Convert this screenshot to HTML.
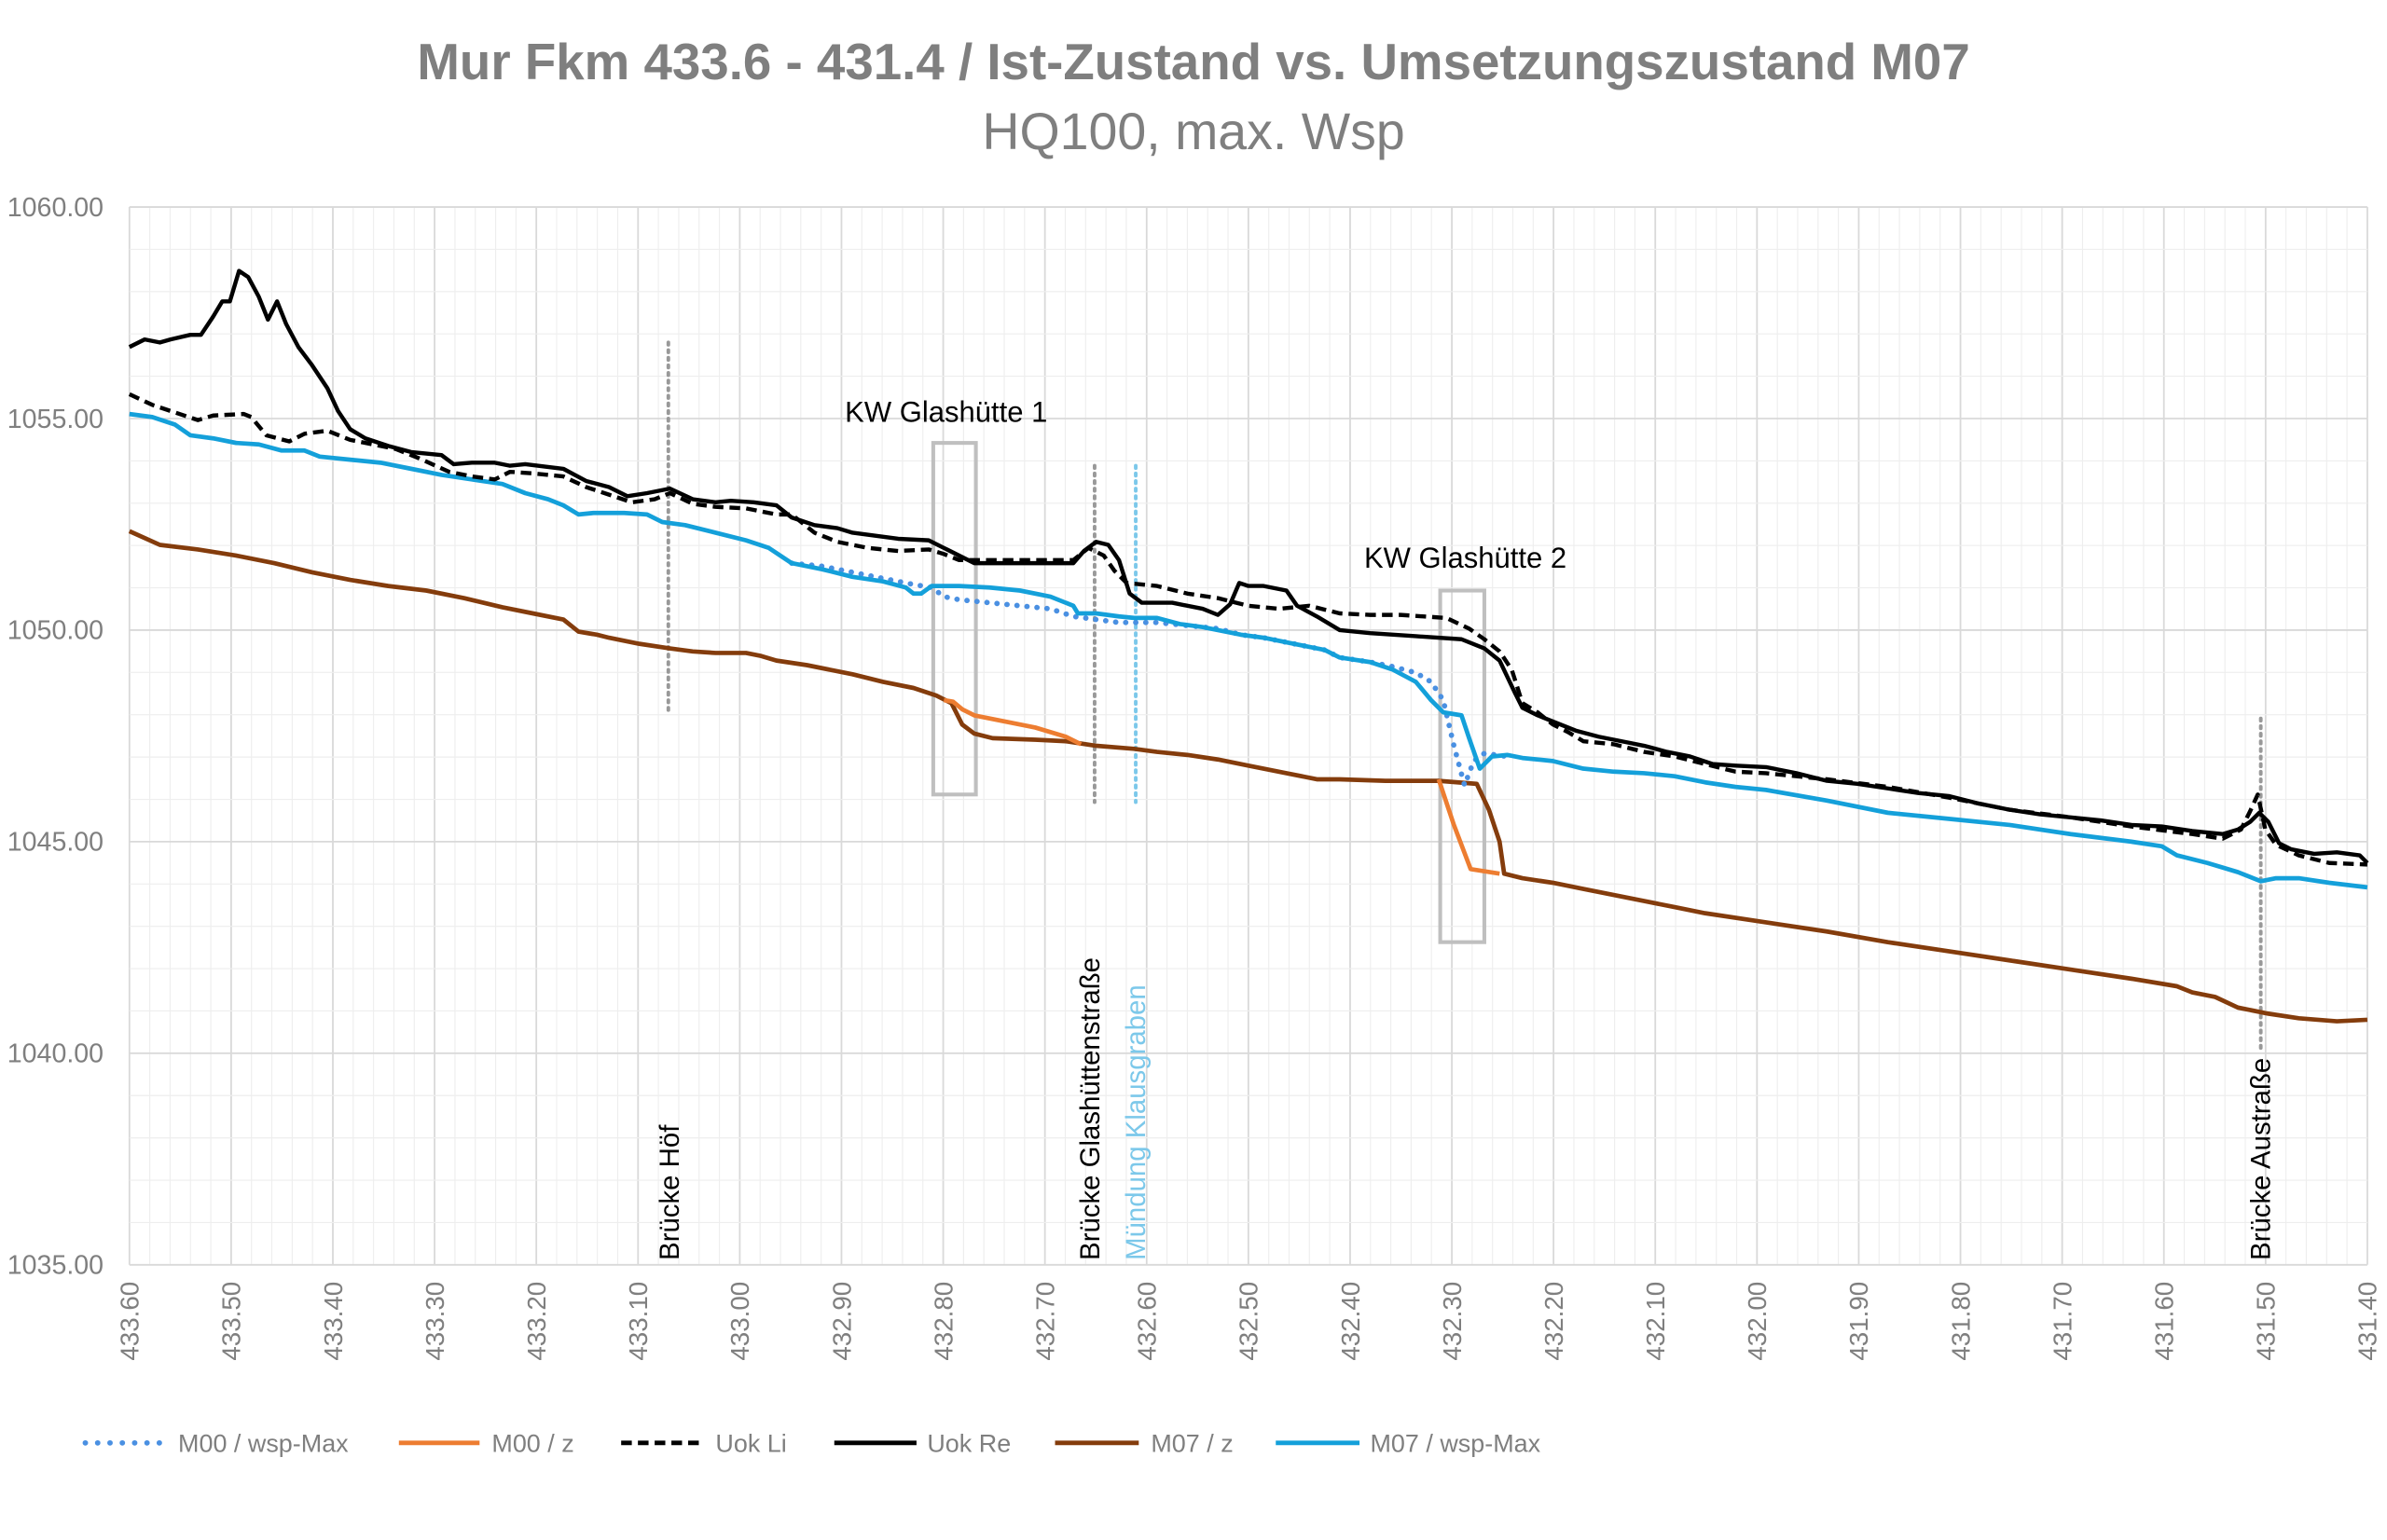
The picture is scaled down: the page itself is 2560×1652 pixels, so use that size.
<!DOCTYPE html>
<html><head><meta charset="utf-8"><style>html,body{margin:0;padding:0;background:#fff}svg{display:block}</style></head>
<body>
<svg width="2560" height="1652" viewBox="0 0 1567.9 1011.8" xmlns="http://www.w3.org/2000/svg" font-family="Liberation Sans, sans-serif">
<rect width="1567.9" height="1011.8" fill="#fff"/>
<g stroke="#f2f2f2" stroke-width="0.6" id="minor"></g>
<script>
(function(){
 var ns="http://www.w3.org/2000/svg",g=document.getElementById("minor");
 function ln(x1,y1,x2,y2,c,w){var l=document.createElementNS(ns,"line");l.setAttribute("x1",x1);l.setAttribute("y1",y1);l.setAttribute("x2",x2);l.setAttribute("y2",y2);l.setAttribute("stroke",c);l.setAttribute("stroke-width",w);g.appendChild(l);}
 var dx=1470/22/5;
 for(var i=0;i<=110;i++){var x=85+i*dx;ln(x,136,x,831,i%5?"#eeeeee":"#d9d9d9",i%5?0.7:1.1);}
 var dy=695/25;
 for(var j=0;j<=25;j++){var y=136+j*dy;ln(85,y,1555,y,j%5?"#eeeeee":"#d9d9d9",j%5?0.7:1.1);}
})();
</script>
<text x="784" y="52" text-anchor="middle" font-size="33.5" font-weight="bold" fill="#7f7f7f">Mur Fkm 433.6 - 431.4 / Ist-Zustand vs. Umsetzungszustand M07</text>
<text x="784" y="98" text-anchor="middle" font-size="34" fill="#7f7f7f">HQ100, max. Wsp</text>
<g font-size="17.5" fill="#7f7f7f" text-anchor="end">
<text x="68" y="142">1060.00</text><text x="68" y="281">1055.00</text><text x="68" y="420">1050.00</text><text x="68" y="559">1045.00</text><text x="68" y="698">1040.00</text><text x="68" y="837">1035.00</text>
</g>
<g font-size="17" fill="#7f7f7f" text-anchor="end" id="xl"></g>
<script>
(function(){var ns="http://www.w3.org/2000/svg",g=document.getElementById("xl");
for(var i=0;i<=22;i++){var x=85+i*1470/22+6;var t=document.createElementNS(ns,"text");t.setAttribute("transform","translate("+x+",842) rotate(-90)");t.textContent=(433.6-i*0.1).toFixed(2);g.appendChild(t);}})();
</script>
<g fill="none" stroke-width="2.4" stroke-dasharray="1.5 3.5" stroke-linecap="round">
<line x1="439" y1="225" x2="439" y2="470" stroke="#999"/>
<line x1="719" y1="306" x2="719" y2="527" stroke="#999"/>
<line x1="746" y1="306" x2="746" y2="527" stroke="#7cc8ea"/>
<line x1="1485" y1="472" x2="1485" y2="690" stroke="#999"/>
</g>
<rect x="613" y="291" width="28" height="231" fill="none" stroke="#bfbfbf" stroke-width="2.5"/>
<rect x="946" y="388" width="29" height="231" fill="none" stroke="#bfbfbf" stroke-width="2.5"/>
<text x="555" y="277" font-size="19" fill="#000">KW Glashütte 1</text>
<text x="896" y="373" font-size="19" fill="#000">KW Glashütte 2</text>
<g font-size="18" fill="#000">
<text transform="translate(446,828) rotate(-90)">Brücke Höf</text>
<text transform="translate(722,828) rotate(-90)">Brücke Glashüttenstraße</text>
<text transform="translate(752,828) rotate(-90)" fill="#7cc8ea">Mündung Klausgraben</text>
<text transform="translate(1491,828) rotate(-90)">Brücke Austraße</text>
</g>
<g fill="none" stroke-linejoin="round">
<polyline stroke="#843c0c" stroke-width="2.9" points="85,349 105,358 130,361 155,365 180,370 205,376 230,381 255,385 280,388 305,393 330,399 350,403 370,407 380,415 392,417 400,419 420,423 440,426 455,428 470,429 490,429 500,431 510,434 530,437 560,443 580,448 600,452 615,457 625,462 632,476 640,482 652,485 680,486 700,487 720,490 745,492 760,494 780,496 800,499 820,503 845,508 865,512 880,512 910,513 945,513 970,515 978,532 985,553 988,574 1000,577 1020,580 1040,584 1060,588 1080,592 1100,596 1120,600 1160,606 1200,612 1240,619 1280,625 1320,631 1360,637 1400,643 1430,648 1440,652 1455,655 1470,662 1490,666 1510,669 1535,671 1555,670"/>
<polyline stroke="#ed7d31" stroke-width="2.9" points="620,460 626,461 632,466 640,470 660,474 680,478 700,484 710,489"/>
<polyline stroke="#ed7d31" stroke-width="2.9" points="945,512 955,542 966,571 985,574"/>
<polyline stroke="#4a90e2" stroke-width="3.5" stroke-dasharray="0.1 6.5" stroke-linecap="round" points="520,370 540,372 560,376 580,380 600,384 612,386 620,392 630,394 650,396 670,398 690,400 705,405 720,407 735,409 760,409 780,411 800,413 815,417 830,419 850,423 870,427 880,432 900,435 915,438 930,442 940,448 948,460 955,490 962,516 968,500 975,495 990,497"/>
<polyline stroke="#14a0da" stroke-width="2.9" points="85,272 100,274 115,279 125,286 140,288 155,291 170,292 185,296 200,296 210,300 230,302 250,304 270,308 290,312 310,315 330,318 345,324 360,328 370,332 380,338 390,337 410,337 425,338 435,343 450,345 470,350 490,355 505,360 520,370 540,374 560,379 580,382 595,386 600,390 605,390 612,385 630,385 650,386 670,388 690,392 705,398 708,403 720,403 735,405 745,406 760,406 775,410 790,412 800,414 815,417 830,419 850,423 870,427 880,432 900,435 915,440 930,448 940,460 948,468 960,470 965,485 972,505 980,497 990,496 1000,498 1020,500 1040,505 1060,507 1080,508 1100,510 1120,514 1140,517 1160,519 1200,526 1240,534 1280,538 1320,542 1360,548 1400,553 1420,556 1430,562 1450,567 1470,573 1485,579 1495,577 1510,577 1530,580 1555,583"/>
<polyline stroke="#000" stroke-width="2.7" stroke-dasharray="7 4" points="85,259 100,266 115,271 130,276 140,273 160,272 165,274 175,286 190,290 200,285 215,283 230,289 245,292 260,295 275,301 295,310 310,313 325,315 335,310 350,311 370,313 385,320 400,325 415,330 430,328 440,324 455,331 470,333 490,334 510,338 520,338 535,350 550,356 570,360 590,362 610,361 620,364 630,368 650,368 670,368 705,368 715,360 725,365 732,375 740,383 760,385 780,390 800,393 820,398 840,400 860,398 880,403 900,404 920,404 950,406 965,413 975,420 985,428 993,440 1000,462 1010,468 1020,476 1030,481 1040,487 1060,489 1080,494 1100,497 1120,502 1140,507 1160,508 1200,512 1240,517 1280,524 1320,532 1360,537 1400,543 1440,548 1460,551 1472,545 1478,533 1483,522 1488,545 1495,555 1510,562 1530,567 1555,568"/>
<polyline stroke="#000" stroke-width="2.7" points="85,228 95,223 105,225 112,223 125,220 132,220 140,208 146,198 151,198 157,178 163,182 170,195 176,210 182,198 188,213 196,228 205,240 215,255 222,270 230,282 240,288 255,293 270,297 290,299 298,305 310,304 325,304 335,306 345,305 370,308 385,316 400,320 412,326 425,324 440,321 455,328 470,330 480,329 495,330 510,332 520,340 535,345 550,347 560,350 575,352 590,354 610,355 620,360 640,370 660,370 690,370 705,370 712,362 720,356 728,358 735,368 742,390 750,396 770,396 790,400 800,404 808,397 814,383 820,385 830,385 845,388 852,398 865,405 880,414 900,416 930,418 960,420 975,426 985,434 995,455 1000,465 1010,470 1020,474 1035,480 1050,484 1070,488 1080,490 1095,494 1110,497 1125,502 1140,503 1160,504 1180,508 1200,513 1220,515 1240,518 1260,521 1280,523 1300,528 1320,532 1340,535 1360,537 1380,539 1400,542 1420,543 1440,546 1460,548 1470,545 1478,540 1484,534 1490,540 1497,554 1505,558 1520,561 1535,560 1550,562 1555,567"/>
</g>
<g font-size="16.5" fill="#7f7f7f">
<line x1="56" y1="948" x2="108" y2="948" stroke="#4a90e2" stroke-width="3.5" stroke-dasharray="0.1 8" stroke-linecap="round"/>
<text x="117" y="954">M00 / wsp-Max</text>
<line x1="262" y1="948" x2="315" y2="948" stroke="#ed7d31" stroke-width="3"/>
<text x="323" y="954">M00 / z</text>
<line x1="408" y1="948" x2="462" y2="948" stroke="#000" stroke-width="3" stroke-dasharray="7 4"/>
<text x="470" y="954">Uok Li</text>
<line x1="548" y1="948" x2="602" y2="948" stroke="#000" stroke-width="3"/>
<text x="609" y="954">Uok Re</text>
<line x1="693" y1="948" x2="748" y2="948" stroke="#843c0c" stroke-width="3"/>
<text x="756" y="954">M07 / z</text>
<line x1="838" y1="948" x2="893" y2="948" stroke="#14a0da" stroke-width="3"/>
<text x="900" y="954">M07 / wsp-Max</text>
</g>
</svg>
</body></html>
